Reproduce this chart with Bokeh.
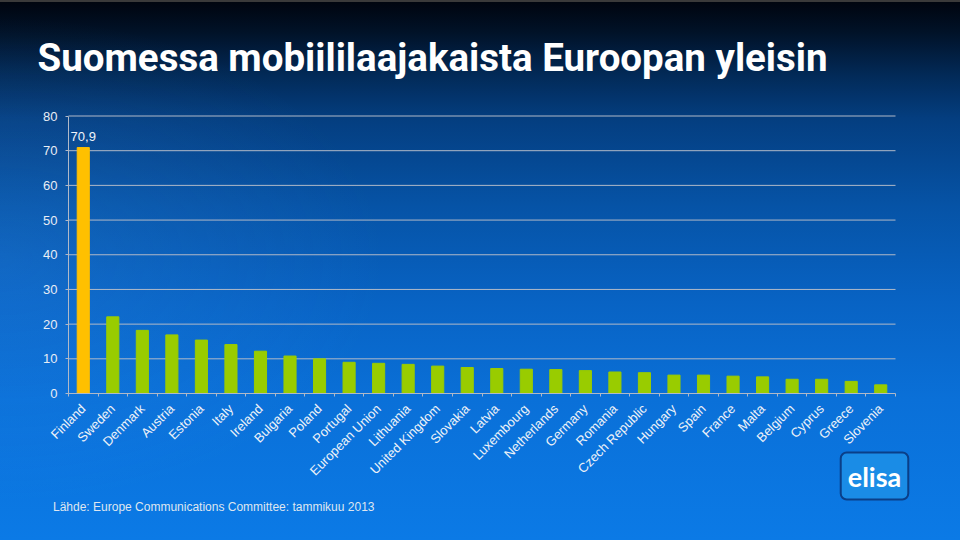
from bokeh.plotting import figure
from bokeh.models import ColumnDataSource, FixedTicker, Label, GlobalInlineStyleSheet
from bokeh.core.properties import value
from bokeh.embed import file_html
from bokeh.resources import INLINE
import math

# ---- data ----
categories = ["Finland", "Sweden", "Denmark", "Austria", "Estonia", "Italy", "Ireland",
              "Bulgaria", "Poland", "Portugal", "European Union", "Lithuania",
              "United Kingdom", "Slovakia", "Latvia", "Luxembourg", "Netherlands",
              "Germany", "Romania", "Czech Republic", "Hungary", "Spain", "France",
              "Malta", "Belgium", "Cyprus", "Greece", "Slovenia"]
values = [70.9, 22.1, 18.2, 16.9, 15.4, 14.1, 12.2, 10.8, 10.0, 9.0, 8.7, 8.4,
          7.9, 7.5, 7.2, 7.0, 6.9, 6.6, 6.2, 6.0, 5.3, 5.3, 5.0, 4.8, 4.1, 4.1, 3.5, 2.5]
highlight = "Finland"
y_ticks = [0, 10, 20, 30, 40, 50, 60, 70, 80]
title_text = "Suomessa mobiililaajakaista Euroopan yleisin"
source_text = "Lähde: Europe Communications Committee: tammikuu 2013"
logo_text = "elisa"

FONT = "Liberation Sans"

# ---- layout (pixels inside the 944x524 canvas) ----
W, H = 944, 524
AX_L, AX_R = 60, 887        # plot area left/right
AX_T, AX_B = 107.5, 385     # plot area top (=80) / bottom (=0)

n = len(categories)
xs = list(range(n))
x_lo, x_hi = -0.5, n - 0.5
y_lo, y_hi = y_ticks[0], y_ticks[-1]
px_x = (AX_R - AX_L) / (x_hi - x_lo)
px_y = (AX_B - AX_T) / (y_hi - y_lo)
x_range = (x_lo - AX_L / px_x, x_hi + (W - AX_R) / px_x)
y_range = (y_lo - (H - AX_B) / px_y, y_hi + AX_T / px_y)

colors = ["#FFC000" if c == highlight else "#99CC00" for c in categories]
src = ColumnDataSource(dict(x=xs, v=values, c=colors, name=categories))

p = figure(frame_width=W, frame_height=H, output_backend="svg",
           toolbar_location=None, title=None,
           x_range=x_range, y_range=y_range,
           min_border=0)
p.background_fill_color = None
p.border_fill_color = None
p.outline_line_color = None

css = """
html, body { height: 100%; margin: 0; padding: 0; }
html {
  background:
    radial-gradient(ellipse 40% 45% at 0% 48%, rgba(70,160,255,0.16), rgba(70,160,255,0) 100%),
    linear-gradient(to bottom, #3a3a3a 0px, #3a3a3a 2px, #00050f 2px,
     #011228 6%, #022a58 14%, #043e80 22%, #0653a6 38%, #0863c4 56%,
     #0a70d8 74%, #0b7ae6 100%);
}
body { margin: 8px; background: transparent; }
"""
p.stylesheets = [GlobalInlineStyleSheet(css=css)]

# horizontal grid lines between the axes
p.segment(x0=x_lo, x1=x_hi, y0=y_ticks[1:], y1=y_ticks[1:],
          line_color="#b0b9c8", line_width=1)

p.vbar(x="x", top="v", width=0.41, color="c", source=src)

# value label for the highlighted bar
hi = categories.index(highlight)
p.text(x=[xs[hi]], y=[values[hi]], text=[f"{values[hi]:.1f}".replace(".", ",")],
       text_font=value(FONT), text_font_size="13px", text_color="#f0f4fa",
       text_align="center", text_baseline="bottom", y_offset=-7)

p.xgrid.grid_line_color = None
p.ygrid.grid_line_color = None

# y axis
p.yaxis.fixed_location = x_lo
p.yaxis.bounds = (y_lo, y_hi)
p.yaxis.ticker = FixedTicker(ticks=y_ticks)
p.yaxis.axis_line_color = "#b0b9c8"
p.yaxis.major_tick_line_color = "#b0b9c8"
p.yaxis.major_tick_out = 3
p.yaxis.major_tick_in = 0
p.yaxis.minor_tick_line_color = None
p.yaxis.major_label_text_font = FONT
p.yaxis.major_label_text_font_size = "13px"
p.yaxis.major_label_text_color = "#e8edf5"
p.yaxis.major_label_standoff = 8

# x axis
p.xaxis.fixed_location = y_lo
p.xaxis.bounds = (x_lo, x_hi)
p.xaxis.ticker = FixedTicker(ticks=xs, minor_ticks=[i - 0.5 for i in xs] + [x_hi])
p.xaxis.major_label_overrides = {i: c for i, c in zip(xs, categories)}
p.xaxis.major_label_orientation = math.pi / 4
p.xaxis.axis_line_color = "#b0b9c8"
p.xaxis.major_tick_line_color = None
p.xaxis.minor_tick_line_color = "#b0b9c8"
p.xaxis.minor_tick_out = 3
p.xaxis.minor_tick_in = 0
p.xaxis.major_label_text_font = FONT
p.xaxis.major_label_text_font_size = "13px"
p.xaxis.major_label_text_color = "#eef2f8"
p.xaxis.major_label_standoff = 7

# title (screen coords measured from the canvas bottom-left)
p.add_layout(Label(x=29, y=475, x_units="screen", y_units="screen",
                   text=title_text, text_font="Roboto", text_font_style="bold",
                   text_font_size="38.5px", text_color="white",
                   text_baseline="alphabetic", text_align="left"))

# source
p.add_layout(Label(x=44.5, y=25.5, x_units="screen", y_units="screen",
                   text=source_text, text_font=FONT, text_font_size="12px",
                   text_color="#dfe6f0", text_baseline="alphabetic", text_align="left"))

# logo
p.add_layout(Label(x=866, y=H - 467.5, x_units="screen", y_units="screen",
                   text=logo_text, text_font="Lato", text_font_style="bold",
                   text_font_size="27px", text_color="white",
                   text_align="center", text_baseline="middle",
                   background_fill_color="#1a8ce6", border_line_color="#0a3f88",
                   border_line_width=2, border_radius=6, padding=7))

open("out.html", "w").write(file_html(p, INLINE))
